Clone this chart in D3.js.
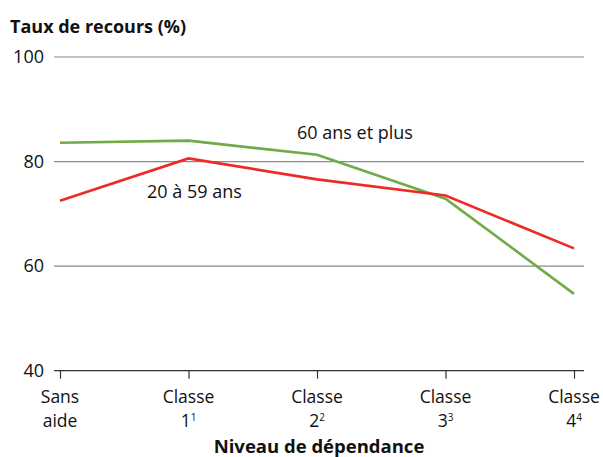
<!DOCTYPE html>
<html>
<head>
<meta charset="utf-8">
<script src="https://cdn.jsdelivr.net/npm/d3@7"></script>
<style>
  body { margin: 0; background: #fff; }
  text { font-family: "Open Sans", "Noto Sans", sans-serif; fill: #111; }
</style>
</head>
<body>
<svg id="chart" width="603" height="457"></svg>
<script>
// categories and superscript notes
const categories = ['Sans aide', 'Classe 1', 'Classe 2', 'Classe 3', 'Classe 4'];
const catLine1 = ['Sans', 'Classe', 'Classe', 'Classe', 'Classe'];
const catLine2 = ['aide', '1', '2', '3', '4'];
const catSup = ['', '1', '2', '3', '4'];

// series values (%)
const ages20to59 = [72.5, 80.6, 76.6, 73.5, 63.4];
const ages60plus = [83.6, 84.0, 81.3, 72.9, 54.7];

const yTicks = [40, 60, 80, 100];

const svg = d3.select('#chart');

const x = d3.scalePoint()
    .domain(categories)
    .range([60, 574]);

const y = d3.scaleLinear()
    .domain([40, 100])
    .range([370.7, 57]);

// gridlines
svg.append('g')
    .selectAll('line')
    .data(yTicks.filter(d => d > 40))
    .enter()
    .append('line')
    .attr('x1', 54)
    .attr('x2', 584)
    .attr('y1', d => y(d))
    .attr('y2', d => y(d))
    .attr('stroke', '#8a8a8a')
    .attr('stroke-width', 1.2);

// y tick labels
svg.append('g')
    .selectAll('text')
    .data(yTicks)
    .enter()
    .append('text')
    .attr('x', 44)
    .attr('y', d => y(d) + 6)
    .attr('text-anchor', 'end')
    .attr('font-size', 18)
    .text(d => d);

// x axis
const xAxis = d3.axisBottom(x).tickSize(8).tickFormat('');
const gx = svg.append('g')
    .attr('transform', `translate(0,${y(40)})`)
    .call(xAxis);
gx.select('.domain')
    .attr('d', 'M54,0H584')
    .attr('stroke', '#333')
    .attr('stroke-width', 1.2);
gx.selectAll('.tick line').attr('stroke', '#333').attr('stroke-width', 1.2);

// category labels, two lines in one text element
svg.append('g')
    .selectAll('text')
    .data(categories)
    .enter()
    .append('text')
    .attr('transform', d => `translate(${x(d)},403)`)
    .attr('text-anchor', 'middle')
    .attr('font-size', 17.5)
    .each(function(d, i) {
        const t = d3.select(this);
        t.append('tspan').attr('x', 0).text(catLine1[i]);
        const second = t.append('tspan').attr('x', 0).attr('dy', 24);
        if (catSup[i]) {
            second.append('tspan').text(catLine2[i]);
            second.append('tspan')
                .attr('font-size', 10)
                .attr('dy', -6)
                .text(catSup[i]);
        } else {
            second.text(catLine2[i]);
        }
    });

// lines
const line = d3.line()
    .x((d, i) => x(categories[i]))
    .y(d => y(d));

svg.append('path')
    .datum(ages60plus)
    .attr('d', line)
    .attr('fill', 'none')
    .attr('stroke', '#6fab47')
    .attr('stroke-width', 2.6);

svg.append('path')
    .datum(ages20to59)
    .attr('d', line)
    .attr('fill', 'none')
    .attr('stroke', '#ee2a26')
    .attr('stroke-width', 2.6);

// series labels
svg.append('text')
    .attr('x', 297)
    .attr('y', 139)
    .attr('font-size', 18)
    .text('60 ans et plus');

svg.append('text')
    .attr('x', 147)
    .attr('y', 198)
    .attr('font-size', 18)
    .text('20 à 59 ans');

// titles
svg.append('text')
    .attr('x', 10)
    .attr('y', 33)
    .attr('font-size', 18)
    .attr('font-weight', 'bold')
    .text('Taux de recours (%)');

svg.append('text')
    .attr('x', 319)
    .attr('y', 453)
    .attr('text-anchor', 'middle')
    .attr('font-size', 18.5)
    .attr('font-weight', 'bold')
    .text('Niveau de dépendance');
</script>
</body>
</html>
